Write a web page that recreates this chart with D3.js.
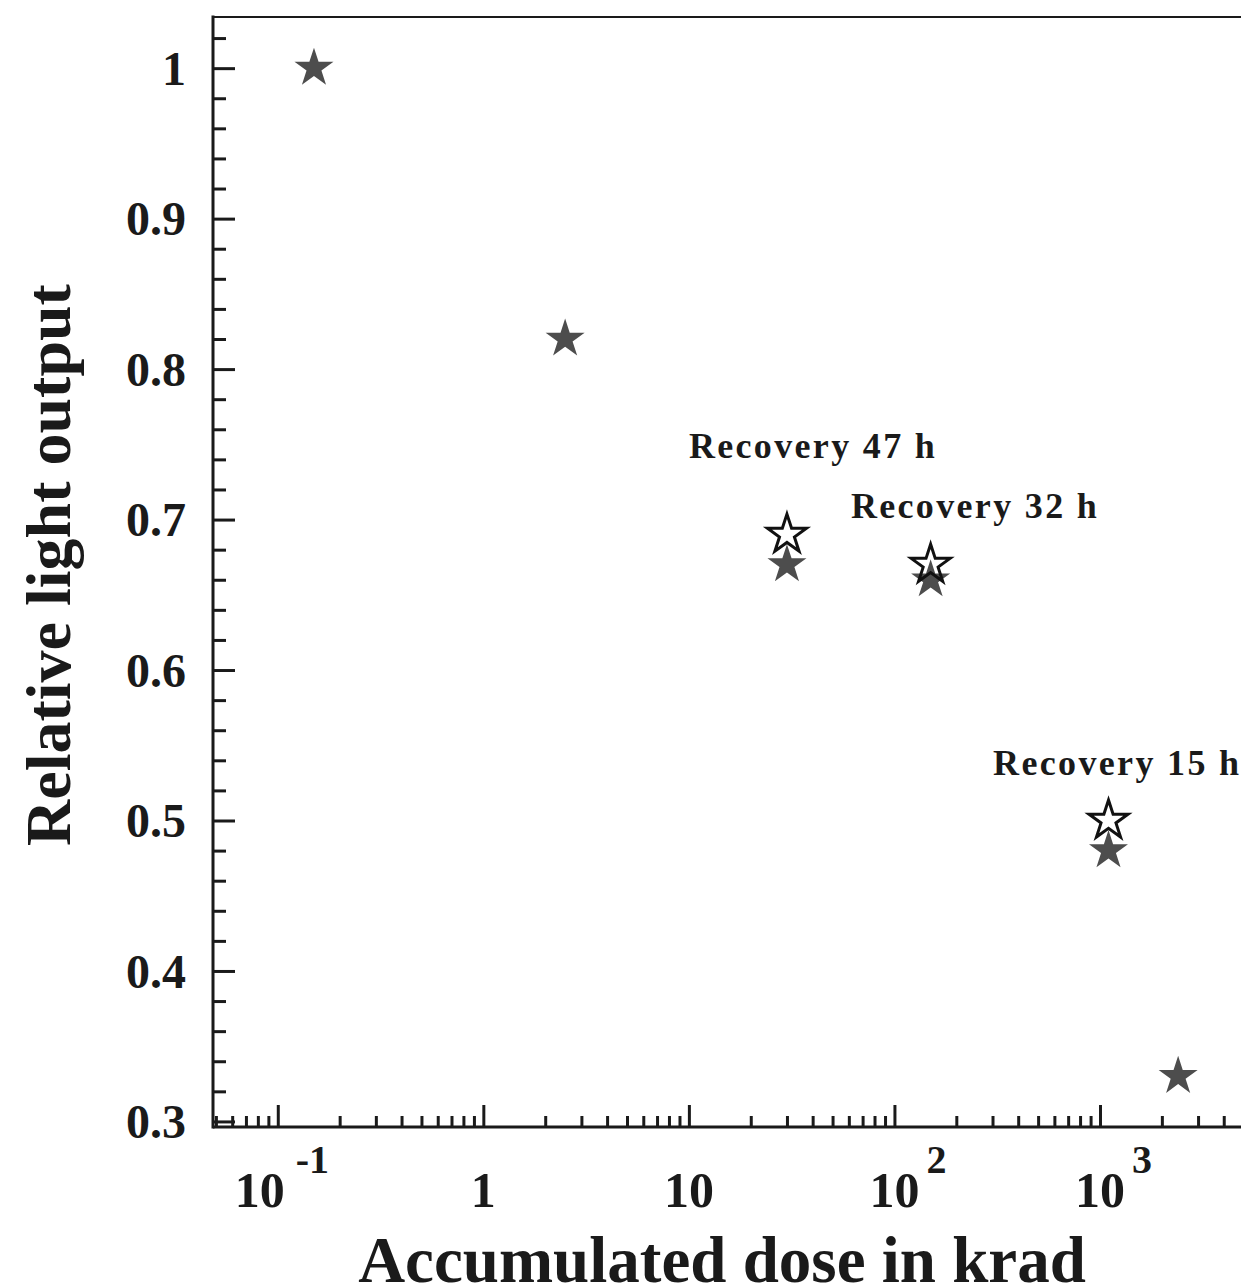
<!DOCTYPE html>
<html>
<head>
<meta charset="utf-8">
<script src="https://cdn.jsdelivr.net/npm/d3@7"></script>
<style>
  html, body { margin: 0; padding: 0; background: #fff; }
  svg { display: block; }
  text { font-family: "Liberation Serif", "Times New Roman", serif; font-weight: bold; fill: #1a1a1a; }
</style>
</head>
<body>
<svg id="chart" width="1241" height="1288"></svg>
<script>
// ---- data ----
const irradiatedDose  = [0.15, 2.5, 30, 150, 1100, 2400];     // krad
const irradiatedLight = [1.00, 0.82, 0.67, 0.66, 0.48, 0.33];
const recoveredDose   = [30, 150, 1100];
const recoveredLight  = [0.69, 0.67, 0.50];
const recoveryLabels  = ["Recovery 47 h", "Recovery 32 h", "Recovery 15 h"];
const labelDose       = [10.0, 61.4, 302];
const labelLight      = [0.741, 0.701, 0.530];
const yTickValues     = [0.3, 0.4, 0.5, 0.6, 0.7, 0.8, 0.9, 1.0];
const yTickLabels     = ["0.3", "0.4", "0.5", "0.6", "0.7", "0.8", "0.9", "1"];
const xTickValues     = [0.1, 1, 10, 100, 1000];
const xTickBase       = ["10", "1", "10", "10", "10"];
const xTickExponent   = ["-1", "", "", "2", "3"];
const xTitle = "Accumulated dose in krad";
const yTitle = "Relative light output";

(function draw() {
  const svg = d3.select("#chart");
  const mLeft = 213, mRight = 1241, mTop = 17, mBottom = 1127;
  const ink = "#1a1a1a";

  const x = d3.scaleLog().domain([0.0484, 4853]).range([mLeft, mRight]);
  const y = d3.scaleLinear().domain([0.2963, 1.034]).range([mBottom, mTop]);

  const xMinor = [];
  for (let e = -2; e <= 3; e++) {
    for (let m = 2; m <= 9; m++) {
      const v = m * Math.pow(10, e);
      if (v > x.domain()[0] && v < x.domain()[1]) xMinor.push(v);
    }
  }
  const yMinor = d3.range(0.30, 1.0301, 0.02).map(v => +v.toFixed(2))
    .filter(v => !yTickValues.some(t => Math.abs(t - v) < 1e-6));

  function styleAxis(g) {
    g.select(".domain").remove();
    g.selectAll(".tick line").attr("stroke", ink).attr("stroke-width", 3);
  }

  svg.append("g").attr("transform", `translate(0,${mBottom})`)
    .call(d3.axisBottom(x).tickValues(xMinor).tickSize(-11).tickFormat(""))
    .call(styleAxis);
  svg.append("g").attr("transform", `translate(0,${mBottom})`)
    .call(d3.axisBottom(x).tickValues(xTickValues).tickSize(-22).tickFormat(""))
    .call(styleAxis);

  svg.append("g").attr("transform", `translate(${mLeft},0)`)
    .call(d3.axisLeft(y).tickValues(yMinor).tickSize(-13).tickFormat(""))
    .call(styleAxis);
  const yAx = svg.append("g").attr("transform", `translate(${mLeft},0)`)
    .call(d3.axisLeft(y).tickValues(yTickValues).tickSize(-22)
      .tickFormat((d, i) => yTickLabels[i]))
    .call(styleAxis);
  yAx.selectAll(".tick text")
    .attr("x", -27).attr("dy", "0.34em")
    .attr("text-anchor", "end")
    .style("font-family", '"Liberation Serif", "Times New Roman", serif')
    .style("font-weight", "bold")
    .style("font-size", "48px")
    .attr("fill", ink);

  svg.append("line").attr("x1", mLeft).attr("x2", mLeft).attr("y1", mTop - 1.5).attr("y2", mBottom + 1.5)
    .attr("stroke", ink).attr("stroke-width", 3);
  svg.append("line").attr("x1", mLeft).attr("x2", mRight + 5).attr("y1", mBottom).attr("y2", mBottom)
    .attr("stroke", ink).attr("stroke-width", 3);
  svg.append("line").attr("x1", mLeft).attr("x2", mRight + 5).attr("y1", mTop).attr("y2", mTop)
    .attr("stroke", ink).attr("stroke-width", 2);

  // x tick labels: base centred on tick, exponent appended as superscript
  const xl = svg.append("g");
  xTickValues.forEach((v, i) => {
    const exp = xTickExponent[i];
    const neg = exp && exp.startsWith("-");
    const shift = neg ? -18 : 0;
    xl.append("text")
      .attr("x", x(v) + shift)
      .attr("y", 1207)
      .attr("text-anchor", "middle")
      .style("font-size", "50px")
      .text(xTickBase[i]);
    if (exp) {
      xl.append("text")
        .attr("x", x(v) + shift + (neg ? 36 : 32))
        .attr("y", 1173)
        .attr("text-anchor", "start")
        .style("font-size", "40px")
        .text(exp);
    }
  });

  svg.append("text")
    .attr("x", 722).attr("y", 1282)
    .attr("text-anchor", "middle")
    .style("font-size", "65px")
    .text(xTitle);
  svg.append("text")
    .attr("transform", "translate(70,565) rotate(-90)")
    .attr("text-anchor", "middle")
    .style("font-size", "64px")
    .text(yTitle);

  const star = d3.symbol().type(d3.symbolStar).size(472);
  svg.append("g").selectAll("path")
    .data(irradiatedDose.map((d, i) => [d, irradiatedLight[i]]))
    .join("path")
    .attr("d", star)
    .attr("transform", d => `translate(${x(d[0])},${y(d[1])})`)
    .attr("fill", "#4d4d4d");
  svg.append("g").selectAll("path")
    .data(recoveredDose.map((d, i) => [d, recoveredLight[i]]))
    .join("path")
    .attr("d", star)
    .attr("transform", d => `translate(${x(d[0])},${y(d[1])})`)
    .attr("fill", "none")
    .attr("stroke", "#111")
    .attr("stroke-width", 3);

  svg.append("g").selectAll("text")
    .data(recoveryLabels)
    .join("text")
    .attr("x", (d, i) => x(labelDose[i]))
    .attr("y", (d, i) => y(labelLight[i]))
    .attr("textLength", 246)
    .attr("lengthAdjust", "spacing")
    .style("font-size", "36px")
    .text(d => d);
})();
</script>
</body>
</html>
